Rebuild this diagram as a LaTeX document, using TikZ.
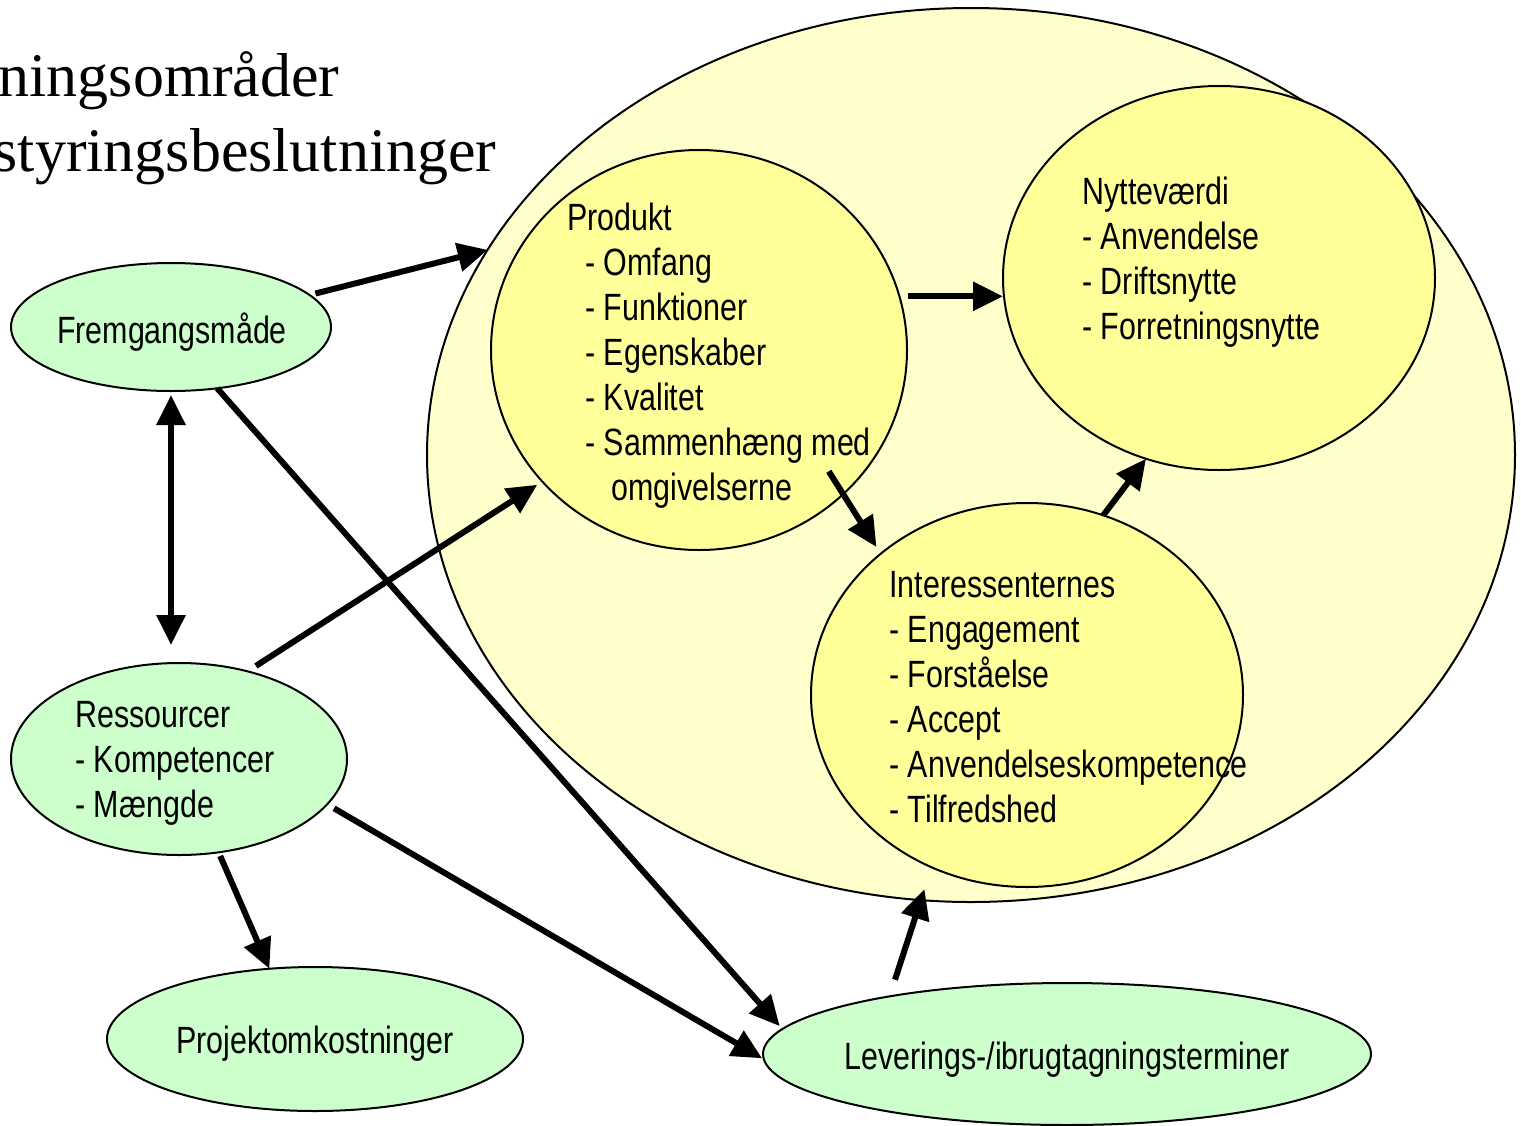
\documentclass[tikz,border=0pt]{standalone}
\usepackage{fontspec}
\setmainfont{Liberation Sans}[FakeStretch=0.8]
\newfontfamily\titlefont{Liberation Serif}
\usetikzlibrary{arrows.meta,shapes.geometric}
\definecolor{bigfill}{HTML}{FFFFCC}
\definecolor{circfill}{HTML}{FFFF99}
\definecolor{greenfill}{HTML}{CCFFCC}
\newcommand{\txtlines}[1]{\begin{tabular}[t]{@{}l@{}}#1\end{tabular}}
\begin{document}
\begin{tikzpicture}[x=0.5pt,y=-0.5pt,
  oval/.style={ellipse,draw=black,line width=1pt,inner sep=0pt,outer sep=0pt},
  bigoval/.style={oval,fill=bigfill},
  yoval/.style={oval,fill=circfill},
  goval/.style={oval,fill=greenfill},
  tipstyle/.tip={Triangle[length=15pt,width=14pt]},
  arr/.style={line width=3pt,-tipstyle},
  darr/.style={line width=3pt,tipstyle-tipstyle},
  lbl/.style={inner sep=0pt,anchor=base west,font=\fontsize{19pt}{22.5pt}\selectfont},
  clbl/.style={inner sep=0pt,anchor=base,font=\fontsize{19pt}{22.5pt}\selectfont},
  ttl/.style={inner sep=0pt,anchor=base east,font=\titlefont\fontsize{31pt}{34pt}\selectfont}]
\useasboundingbox (0,0) rectangle (1521,1125);
\begin{scope}
\clip (0,0) rectangle (1521,1125);
% title
\node[ttl] (t1) at (340,96) {ningsområder};
\node[ttl] (t2) at (497,171) {styringsbeslutninger};
% shapes
\node[bigoval,minimum width=544pt,minimum height=447pt] (big) at (971,455) {};
\node[yoval,minimum width=208pt,minimum height=200pt] (prod) at (699,350) {};
\node[yoval,minimum width=216pt,minimum height=192pt] (nytte) at (1219,278) {};
\node[yoval,minimum width=216pt,minimum height=192pt] (inter) at (1027,695) {};
\node[goval,minimum width=160pt,minimum height=64pt] (frem) at (171,327) {};
\node[goval,minimum width=168pt,minimum height=96pt] (res) at (179,759) {};
\node[goval,minimum width=208pt,minimum height=72pt] (proj) at (315,1039) {};
\node[goval,minimum width=304pt,minimum height=71pt] (lev) at (1067,1054) {};
% texts
\node[lbl] (prodtxt) at (567,230) {\txtlines{Produkt\\\hspace*{9pt}- Omfang\\\hspace*{9pt}- Funktioner\\\hspace*{9pt}- Egenskaber\\\hspace*{9pt}- Kvalitet\\\hspace*{9pt}- Sammenhæng med\\\hspace*{22pt}omgivelserne}};
\node[lbl] (nyttetxt) at (1082,204) {\txtlines{Nytteværdi\\- Anvendelse\\- Driftsnytte\\- Forretningsnytte}};
\node[lbl] (intertxt) at (889,597) {\txtlines{Interessenternes\\- Engagement\\- Forståelse\\- Accept\\- Anvendelseskompetence\\- Tilfredshed}};
\node[lbl] (restxt) at (75,727) {\txtlines{Ressourcer\\- Kompetencer\\- Mængde}};
\node[clbl] (fremtxt) at (172,343) {Fremgangsmåde};
\node[clbl] (projtxt) at (315,1053) {Projektomkostninger};
\node[clbl] (levtxt) at (1067,1069) {Leverings-/ibrugtagningsterminer};
% connectors
\draw[arr,shorten <=3pt] (frem.13) -- (big.157);
\draw[darr,shorten <=2pt,shorten >=9pt] (frem.south) -- (frem.south |- res.north);
\draw[arr,shorten >=2pt] (frem.-53) -- (lev.175);
\draw[arr,shorten <=5pt,shorten >=3pt] (res.52.7) -- (prod.220.8);
\draw[arr,shorten <=4pt,shorten >=1pt] (res.-17.7) -- (lev.181);
\draw[arr,shorten <=2pt] (res.-67) -- (proj.123.5);
\draw[arr,shorten <=4.5pt] (prod.15.7) -- (prod.15.7 -| nytte.west);
\draw[arr,shorten <=-13.5pt,shorten >=4pt] (prod.-45.4) -- (inter.136.5);
\draw[arr] (inter.67.6) -- (nytte.-112);
\draw[arr,shorten <=8.75pt,shorten >=11.5pt] (lev.162.7) -- (inter.-119.8);
\end{scope}
\end{tikzpicture}
\end{document}
